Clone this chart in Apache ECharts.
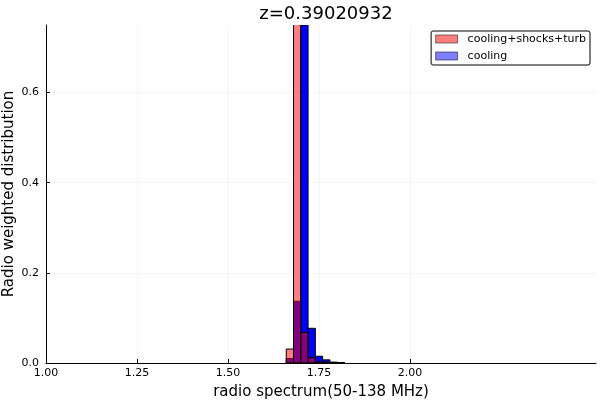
<!DOCTYPE html>
<html>
<head>
<meta charset="utf-8">
<script src="https://cdn.jsdelivr.net/npm/echarts@6/dist/echarts.min.js"></script>
<style>html,body{margin:0;padding:0;background:#fff}#c{width:600px;height:400px}</style>
</head>
<body>
<div id="c"></div>
<script>
const titleText = 'z=0.39020932';
const xName = 'radio spectrum(50-138 MHz)';
const yName = 'Radio weighted distribution';
const binStart = [1.66, 1.68, 1.70, 1.72, 1.74, 1.76, 1.78, 1.80];
const binEnd   = [1.68, 1.70, 1.72, 1.74, 1.76, 1.78, 1.80, 1.82];
const redVals  = [0.031, 0.88, 0.068, 0.012, 0.003, 0.002, 0.001, 0.0005];
const blueVals = [0.010, 0.137, 0.75, 0.077, 0.015, 0.007, 0.002, 0.001];
const xTicks = [1.00, 1.25, 1.50, 1.75, 2.00];
const yTicks = [0.0, 0.2, 0.4, 0.6];
const seriesNames = ['cooling+shocks+turb', 'cooling'];

const font = 'DejaVu Sans';
const gridC = 'rgba(0,0,0,0.04)';

function toData(vals){ return vals.map((v,i)=>[binStart[i], binEnd[i], v]); }

function renderBar(params, api){
  const x0 = api.value(0), x1 = api.value(1), y = api.value(2);
  const p0 = api.coord([x0, 0]);
  const p1 = api.coord([x1, y]);
  return {
    type: 'rect',
    shape: {x: p0[0], y: p1[1], width: p1[0]-p0[0], height: p0[1]-p1[1]},
    style: {fill: api.visual('color'), stroke: '#000', lineWidth: 1}
  };
}

const chart = echarts.init(document.getElementById('c'), null, {renderer:'canvas'});
chart.setOption({
  animation: false,
  backgroundColor: '#fff',
  textStyle: {fontFamily: font},
  title: {text: titleText, left: 321, textAlign: 'center', top: 0,
    textStyle: {fontFamily: font, fontSize: 18, fontWeight: 'normal', color: '#000'}},
  grid: {left: 46, right: 4, top: 25, bottom: 37, containLabel: false, outerBoundsMode: 'none'},
  legend: {
    orient: 'vertical', right: 10, top: 31,
    data: [
      {name: seriesNames[0], itemStyle: {color: 'rgba(255,0,0,0.5)', borderColor: 'rgba(0,0,0,0.5)', borderWidth: 1}},
      {name: seriesNames[1], itemStyle: {color: 'rgba(0,0,255,0.5)', borderColor: 'rgba(0,0,0,0.5)', borderWidth: 1}}
    ],
    icon: 'rect', itemWidth: 22, itemHeight: 8, itemGap: 3,
    padding: [1, 4, 2, 4],
    borderColor: '#000', borderWidth: 1, borderRadius: 2,
    backgroundColor: '#fff',
    textStyle: {fontFamily: font, fontSize: 11, color: '#000', lineHeight: 14, padding: [0,0,0,5]}
  },
  xAxis: {
    type: 'value', min: 1, max: 2.511, interval: 0.25,
    name: xName, nameLocation: 'middle', nameGap: 22,
    nameTextStyle: {fontFamily: font, fontSize: 15, color: '#000'},
    axisLine: {show: true, onZero: false, lineStyle: {color: '#000', width: 1}},
    axisTick: {show: true, inside: true, length: 4, customValues: xTicks, lineStyle: {color: '#000'}},
    axisLabel: {customValues: xTicks, formatter: v => v.toFixed(2), fontFamily: font, fontSize: 11, color: '#000', margin: 5},
    splitLine: {show: true, lineStyle: {color: [gridC, gridC, gridC, gridC, gridC, 'rgba(0,0,0,0)', 'rgba(0,0,0,0)', 'rgba(0,0,0,0)'], width: 1}}
  },
  yAxis: {
    type: 'value', min: 0, max: 0.75, interval: 0.2,
    name: yName, nameLocation: 'middle', nameGap: 29, nameMoveOverlap: false,
    nameTextStyle: {fontFamily: font, fontSize: 15, color: '#000'},
    axisLine: {show: true, onZero: false, lineStyle: {color: '#000', width: 1}},
    axisTick: {show: true, inside: true, length: 4, customValues: yTicks, lineStyle: {color: '#000'}},
    axisLabel: {customValues: yTicks, formatter: v => v.toFixed(1), fontFamily: font, fontSize: 11, color: '#000', margin: 7},
    splitLine: {show: true, lineStyle: {color: [gridC, gridC, gridC, gridC, 'rgba(0,0,0,0)'], width: 1}}
  },
  series: [
    {name: seriesNames[0], type: 'custom', renderItem: renderBar, data: toData(redVals),
      itemStyle: {color: 'rgba(255,0,0,0.5)'}, clip: true, z: 3, encode: {x: [0,1], y: 2}},
    {name: seriesNames[1], type: 'custom', renderItem: renderBar, data: toData(blueVals),
      itemStyle: {color: '#0000ff'}, clip: true, z: 2, encode: {x: [0,1], y: 2}}
  ]
});
</script>
</body>
</html>
